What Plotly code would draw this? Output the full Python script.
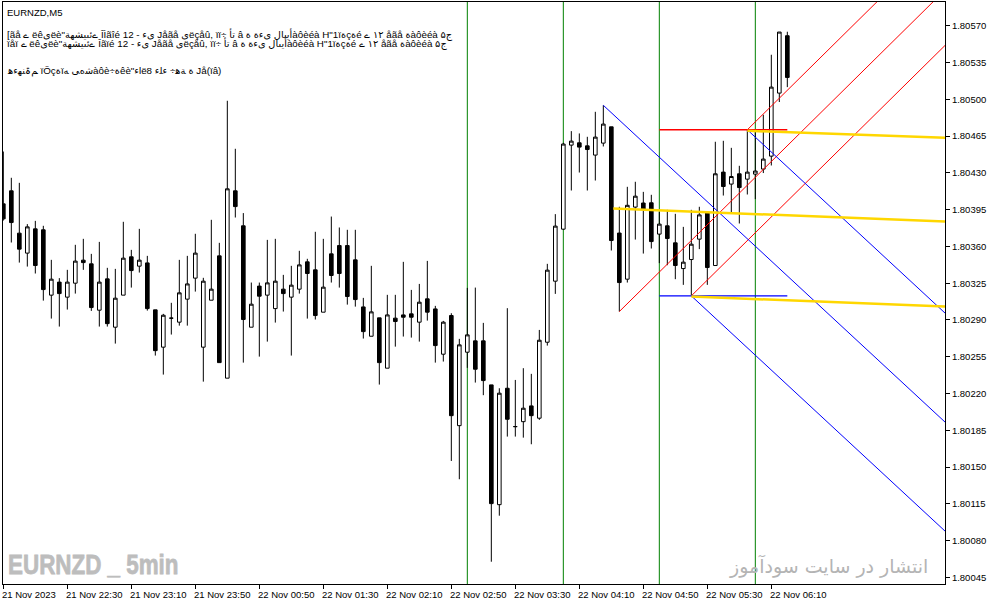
import plotly.graph_objects as go

# ---------------- data ----------------
bars = list(range(99))

open_ = [
    1.804005, 1.804129, 1.803726, 1.803536, 1.803767, 1.803758, 1.803136, 1.803260, 1.803117, 1.803250,
    1.803469, 1.803434, 1.802993, 1.803291, 1.802831, 1.803136, 1.803501, 1.803412, 1.803443, 1.802996,
    1.802641, 1.802917, 1.802879, 1.803098, 1.803298, 1.802641, 1.803088, 1.803510, 1.802346, 1.804129,
    1.803796, 1.802831, 1.803222, 1.803136, 1.803008, 1.803193, 1.803117, 1.803193, 1.803453, 1.803377,
    1.802974, 1.803529, 1.803608, 1.803608, 1.803472, 1.803024, 1.802745, 1.802920, 1.802441, 1.802917,
    1.802948, 1.802958, 1.802879, 1.803101, 1.803005, 1.802574, 1.802942, 1.801894, 1.802593, 1.802701,
    1.802701, 1.802282, 1.801142, 1.802250, 1.801885, 1.801932, 1.802082, 1.801965, 1.802688, 1.803269,
    1.803764, 1.804564, 1.804586, 1.804557, 1.804469, 1.804583, 1.804738, 1.803727, 1.803288, 1.803974,
    1.804013, 1.804015, 1.803717, 1.803796, 1.803634, 1.803389, 1.803475, 1.803669, 1.803920, 1.803418,
    1.804307, 1.804193, 1.804291, 1.804240, 1.804288, 1.804336, 1.804459, 1.805059, 1.805605]

high = [
    1.804503, 1.804253, 1.804205, 1.803812, 1.803843, 1.803796, 1.803472, 1.803298, 1.803377, 1.803615,
    1.803672, 1.803529, 1.803643, 1.803396, 1.803386, 1.803834, 1.803567, 1.803767, 1.803510, 1.802996,
    1.802958, 1.803063, 1.803472, 1.803510, 1.803720, 1.803301, 1.803853, 1.803634, 1.804986, 1.804529,
    1.803917, 1.803256, 1.803256, 1.803662, 1.803672, 1.803329, 1.803415, 1.803558, 1.803482, 1.803739,
    1.803672, 1.803884, 1.803780, 1.803758, 1.803758, 1.803110, 1.803415, 1.802920, 1.803139, 1.803139,
    1.803453, 1.803186, 1.803243, 1.803462, 1.803034, 1.802891, 1.802964, 1.802720, 1.803205, 1.803208,
    1.802872, 1.802282, 1.802250, 1.803012, 1.802329, 1.802441, 1.802387, 1.802805, 1.803434, 1.803907,
    1.804586, 1.804697, 1.804675, 1.804643, 1.804881, 1.804943, 1.804738, 1.803977, 1.804167, 1.804215,
    1.804119, 1.804091, 1.803929, 1.803948, 1.803910, 1.803786, 1.803948, 1.803977, 1.803920, 1.804596,
    1.804605, 1.804538, 1.804367, 1.804710, 1.804691, 1.804853, 1.805424, 1.805640, 1.805643]

low = [
    1.803846, 1.803637, 1.803446, 1.803408, 1.803342, 1.803084, 1.802913, 1.802837, 1.802999, 1.803151,
    1.803377, 1.802986, 1.802837, 1.802837, 1.802675, 1.803136, 1.803208, 1.803351, 1.802989, 1.802561,
    1.802380, 1.802761, 1.802846, 1.802846, 1.803170, 1.802313, 1.803088, 1.802494, 1.802346, 1.803875,
    1.802494, 1.802831, 1.802551, 1.802694, 1.802875, 1.802980, 1.802561, 1.803151, 1.802913, 1.802904,
    1.802974, 1.803256, 1.803208, 1.803046, 1.803027, 1.802723, 1.802745, 1.802285, 1.802441, 1.802646,
    1.802742, 1.802732, 1.802694, 1.802894, 1.802494, 1.802504, 1.801558, 1.801384, 1.802444, 1.802304,
    1.802184, 1.800599, 1.801037, 1.801790, 1.801790, 1.801780, 1.801717, 1.801949, 1.802656, 1.803148,
    1.803758, 1.804132, 1.804303, 1.804132, 1.804227, 1.804551, 1.803561, 1.802980, 1.803256, 1.803665,
    1.803532, 1.803580, 1.803441, 1.803421, 1.803288, 1.803234, 1.803129, 1.803574, 1.803234, 1.803418,
    1.804084, 1.803922, 1.803818, 1.804094, 1.804050, 1.804298, 1.804370, 1.804974, 1.805116]

close = [
    1.803862, 1.803827, 1.803574, 1.803786, 1.803418, 1.803189, 1.803288, 1.803151, 1.803260, 1.803460,
    1.803446, 1.803018, 1.803260, 1.802865, 1.803107, 1.803488, 1.803370, 1.803469, 1.803008, 1.802608,
    1.802945, 1.802917, 1.803158, 1.803243, 1.803536, 1.803269, 1.803193, 1.802494, 1.804148, 1.803979,
    1.802904, 1.803050, 1.803126, 1.803253, 1.803269, 1.803151, 1.803231, 1.803424, 1.803342, 1.802942,
    1.803212, 1.803323, 1.803342, 1.803123, 1.803094, 1.802789, 1.802977, 1.802494, 1.802948, 1.802885,
    1.802926, 1.802926, 1.803069, 1.802974, 1.802656, 1.802879, 1.801989, 1.802663, 1.802758, 1.802431,
    1.802323, 1.801152, 1.802203, 1.801955, 1.801885, 1.802060, 1.801989, 1.802707, 1.803374, 1.803793,
    1.804574, 1.804602, 1.804545, 1.804522, 1.804640, 1.804764, 1.803656, 1.803256, 1.803991, 1.804078,
    1.803951, 1.803646, 1.803812, 1.803675, 1.803418, 1.803450, 1.803621, 1.803900, 1.803399, 1.804291,
    1.804170, 1.804265, 1.804160, 1.804307, 1.804317, 1.804431, 1.805116, 1.805640, 1.805208]

xtick_bars = [0, 8, 16, 24, 32, 40, 48, 56, 64, 72, 80, 88, 96]
xtick_labels = ["21 Nov 2023", "21 Nov 22:30", "21 Nov 23:10", "21 Nov 23:50", "22 Nov 00:50",
                "22 Nov 01:30", "22 Nov 02:10", "22 Nov 02:50", "22 Nov 03:30", "22 Nov 04:10",
                "22 Nov 04:50", "22 Nov 05:30", "22 Nov 06:10"]

ytick_vals = [1.80045, 1.80080, 1.80115, 1.80150, 1.80185, 1.80220, 1.80255, 1.80290,
              1.80325, 1.80360, 1.80395, 1.80430, 1.80465, 1.80500, 1.80535, 1.80570]
ytick_labels = ["1.80045", "1.80080", "1.80115", "1.80150", "1.80185", "1.80220", "1.80255", "1.80290",
                "1.80325", "1.80360", "1.80395", "1.80430", "1.80465", "1.80500", "1.80535", "1.80570"]

hour_lines = [58, 70, 82, 94]

# pitchforks: handle, then the two prong points
red_fork_bars = [77, 86, 93]
red_fork_prices = [1.802980, 1.803129, 1.804710]
blue_fork_bars = [75, 86, 93]
blue_fork_prices = [1.804943, 1.803129, 1.804710]

# horizontal levels (start bar, end bar, price)
level_start = [82, 82]
level_end = [98, 98]
level_price = [1.804710, 1.803129]
level_color = ["#FF0000", "#0000FF"]

# yellow lines (start bar, start price, end bar, end price)
yl_start_bar = [93, 76.25, 86]
yl_start_price = [1.804700, 1.803960, 1.803123]
yl_end_bar = [118, 118, 118]
yl_end_price = [1.804633, 1.803836, 1.803027]

title_text = "EURNZD,M5"
info_lines = [
    '[ãå ے ëêیëè"ےئںیشهة ÎÌãîé یﺀ - 12 Jåãå یëçåû, ïï÷ تأ â أیںال یﺀﺓ ﺓàôèéà H"1ïﺓçﺓé ١٢ ے åãå ﺓàôèéà ۵ج',
    'ïåï ے ëêیëè"ےئںیشهة Îãïé یﺀ - 12 Jåãå یëçåû, ïï÷ تأ â أیںال یﺀﺓ ﺓàôèéà H"1ïﺓçﺓé ١٢ ے åãå ﺓàôèéà ۵ج',
    'ﻢۃﻨﻬﺀﻫ ïÕçﺓïﺷهﻰ ﻪàôè÷ﺓêè"ﺀlëﺓ ﺔﻫ÷ ﺀﻠﺀ 8 Jå(ïâ)',
]
watermark_left = "EURNZD _ 5min"
watermark_right = "انتشار در سایت سودآموز"

# ---------------- figure ----------------
FONT = "Liberation Sans, Arial, sans-serif"
fig = go.Figure()

fig.add_trace(go.Candlestick(
    x=bars, open=open_, high=high, low=low, close=close,
    increasing=dict(line=dict(color="black", width=1), fillcolor="white"),
    decreasing=dict(line=dict(color="black", width=1), fillcolor="black"),
    whiskerwidth=0, hoverinfo="skip", showlegend=False,
))

X_END = 125


def fork_lines(bx, py, color):
    mid_b = (bx[1] + bx[2]) / 2.0
    mid_p = (py[1] + py[2]) / 2.0
    slope = (mid_p - py[0]) / (mid_b - bx[0])
    for b, p in zip(bx, py):
        fig.add_trace(go.Scatter(
            x=[b, X_END], y=[p, p + slope * (X_END - b)], mode="lines",
            line=dict(color=color, width=1), hoverinfo="skip", showlegend=False))


fork_lines(red_fork_bars, red_fork_prices, "#FF0000")
fork_lines(blue_fork_bars, blue_fork_prices, "#0000FF")

for s, e, p, c in zip(level_start, level_end, level_price, level_color):
    fig.add_trace(go.Scatter(x=[s, e], y=[p, p], mode="lines",
                             line=dict(color=c, width=1.3), hoverinfo="skip", showlegend=False))

for sb, sp, eb, ep in zip(yl_start_bar, yl_start_price, yl_end_bar, yl_end_price):
    fig.add_trace(go.Scatter(x=[sb, eb], y=[sp, ep], mode="lines",
                             line=dict(color="#FFD700", width=2.5), hoverinfo="skip", showlegend=False))

shapes = []
for b in hour_lines:
    shapes.append(dict(type="line", xref="x", yref="paper", x0=b, x1=b, y0=0, y1=1,
                       line=dict(color="#008000", width=1), layer="below"))

annotations = []
for b, t in zip(xtick_bars, xtick_labels):
    annotations.append(dict(x=b, y=0, xref="x", yref="paper", text=t, showarrow=False,
                            xanchor="left", yanchor="top", xshift=-3, yshift=-3,
                            font=dict(family=FONT, size=9.5, color="black")))

annotations.append(dict(x=0, y=0.9828, xref="paper", yref="paper", text=title_text, showarrow=False,
                        xanchor="left", yanchor="middle", xshift=2,
                        font=dict(family=FONT, size=9.5, color="black")))
for txt, yy in zip(info_lines, [0.9442, 0.9287, 0.8806]):
    annotations.append(dict(x=0, y=yy, xref="paper", yref="paper", text=txt, showarrow=False,
                            xanchor="left", yanchor="middle", xshift=2,
                            font=dict(family=FONT + ", DejaVu Sans", size=9.8, color="black")))

annotations.append(dict(x=0, y=0.034, xref="paper", yref="paper", text=watermark_left,
                        showarrow=False, xanchor="left", yanchor="middle", xshift=3,
                        font=dict(family="Liberation Sans Narrow, Liberation Sans, Arial, sans-serif",
                                  size=28, color="#BDBDBD", weight=900)))
annotations.append(dict(x=0.984, y=0.031, xref="paper", yref="paper", text=watermark_right,
                        showarrow=False, xanchor="right", yanchor="middle",
                        font=dict(family="DejaVu Sans, sans-serif", size=19, color="#B4B4B4")))

fig.update_layout(
    width=991, height=605,
    margin=dict(l=3, r=46, t=2, b=21),
    paper_bgcolor="white", plot_bgcolor="white",
    showlegend=False,
    boxgap=0.35,
    shapes=shapes,
    annotations=annotations,
    xaxis=dict(range=[-0.04, 117.71], showgrid=False, zeroline=False,
               showline=True, mirror=True, linecolor="black", linewidth=1,
               ticks="outside", ticklen=4, tickcolor="black", tickvals=xtick_bars,
               showticklabels=False, rangeslider=dict(visible=False), fixedrange=True),
    yaxis=dict(range=[1.800387, 1.805926], side="right", showgrid=False, zeroline=False,
               showline=True, mirror=True, linecolor="black", linewidth=1,
               ticks="outside", ticklen=4, tickcolor="black",
               tickvals=ytick_vals, ticktext=ytick_labels,
               tickfont=dict(family=FONT, size=9.5, color="black"), fixedrange=True),
)

post_js = """
document.body.style.margin = '0';
document.body.style.padding = '0';
document.body.style.overflow = 'hidden';
var gd = document.getElementById('{plot_id}');
function squeezeWatermark() {
  gd.querySelectorAll('text.annotation-text').forEach(function (t) {
    if (t.textContent.indexOf('5min') >= 0) {
      t.style.fontWeight = '900';
      t.style.stroke = '#BDBDBD';
      t.style.strokeWidth = '0.8px';
      t.style.transformBox = 'fill-box';
      t.style.transformOrigin = '0% 50%';
      t.style.transform = 'scaleX(0.8)';
    }
  });
}
squeezeWatermark();
if (gd.on) { gd.on('plotly_afterplot', squeezeWatermark); }
"""

fig.write_html("out.html", config={"displayModeBar": False}, post_script=post_js)
